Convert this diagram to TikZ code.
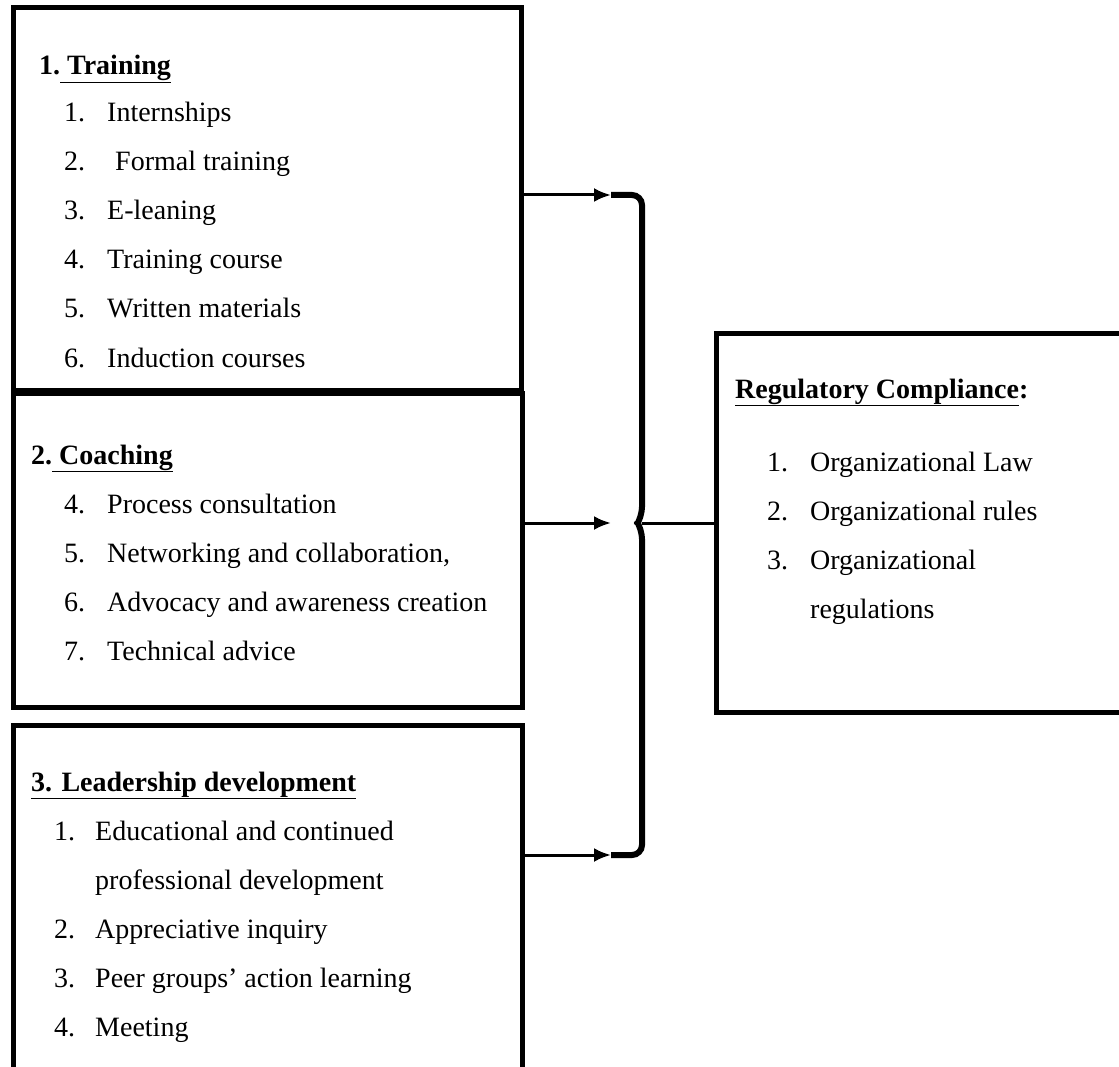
\documentclass[tikz,border=0pt]{standalone}
\usepackage{fontspec}
\setmainfont{Liberation Serif}
\usetikzlibrary{arrows.meta}

\tikzset{
  box/.style={draw, line width=5pt, inner sep=0pt},
  item/.style={anchor=base west, inner sep=0pt, font=\fontsize{28}{34}\selectfont},
  head/.style={item, font=\fontsize{28}{34}\selectfont\bfseries},
  feed/.style={line width=3pt, -{Latex[length=17pt,width=14pt]}},
  brace/.style={line width=6pt, rounded corners=10pt},
}

\begin{document}
\begin{tikzpicture}[x=1pt, y=-1pt]
      \clip (0,0) rectangle (1119,1067) ;
      \fill[white] (0,0) rectangle (1119,1067) ;
      \node[box, minimum width=508pt, minimum height=382pt] (training) at (267,199) {} ;
      \node[box, minimum width=509pt, minimum height=314pt] (coaching) at (267.5,550) {} ;
      \node[box, minimum width=509pt, minimum height=385pt] (leadership) at (267.5,917.5) {} ;
      \node[box, minimum width=414pt, minimum height=379pt] (compliance) at (923,523) {} ;
      \node[head] (training-head) at (39,75) {1.\underline{\ Training}} ;
      \foreach \t/\x [count=\k] in {Internships/107, Formal training/115, E-leaning/107, Training course/107, Written materials/107, Induction courses/107}
      {
      \node[item] (training-n\k) at (64,{73+49*\k}) {\k.} ;
      \node[item] (training-\k) at (\x,{73+49*\k}) {\t} ;
      }
      \node[head] (coaching-head) at (31,464) {2.\underline{\ Coaching}} ;
      \foreach \t [count=\k from 4] in {Process consultation, {Networking and collaboration,}, Advocacy and awareness creation, Technical advice}
      {
      \node[item] (coaching-n\k) at (64,{317+49*\k}) {\k.} ;
      \node[item] (coaching-\k) at (107,{317+49*\k}) {\t} ;
      }
      \node[head] (leadership-head) at (31,791) {\underline{3. Leadership development}} ;
      \foreach \n/\t [count=\k] in {1./Educational and continued, /professional development, 2./Appreciative inquiry, 3./Peer groups’ action learning, 4./Meeting}
      {
      \node[item] (leadership-n\k) at (54,{791+49*\k}) {\n} ;
      \node[item] (leadership-\k) at (95,{791+49*\k}) {\t} ;
      }
      \node[head] (compliance-head) at (735,398) {\underline{Regulatory Compliance}:} ;
      \foreach \n/\t [count=\k] in {1./Organizational Law, 2./Organizational rules, 3./Organizational, /regulations}
      {
      \node[item] (compliance-n\k) at (767,{422+49*\k}) {\n} ;
      \node[item] (compliance-\k) at (810,{422+49*\k}) {\t} ;
      }
      \coordinate (top) at (611,195) ;
      \coordinate (mid) at (642,523) ;
      \coordinate (bot) at (611,855) ;
      \draw[feed] (training.east |- top) -- (top) ;
      \draw[feed] (coaching.east |- mid) -- (top |- mid) ;
      \draw[feed] (leadership.east |- bot) -- (bot) ;
      \draw[brace] (top) -- (top -| mid) -- (642,517) -- (638,523) ;
      \draw[brace] (bot) -- (bot -| mid) -- (642,529) -- (638,523) ;
      \draw[line width=3pt] (mid) -- (compliance.west) ;
    \end{tikzpicture}
\end{document}
